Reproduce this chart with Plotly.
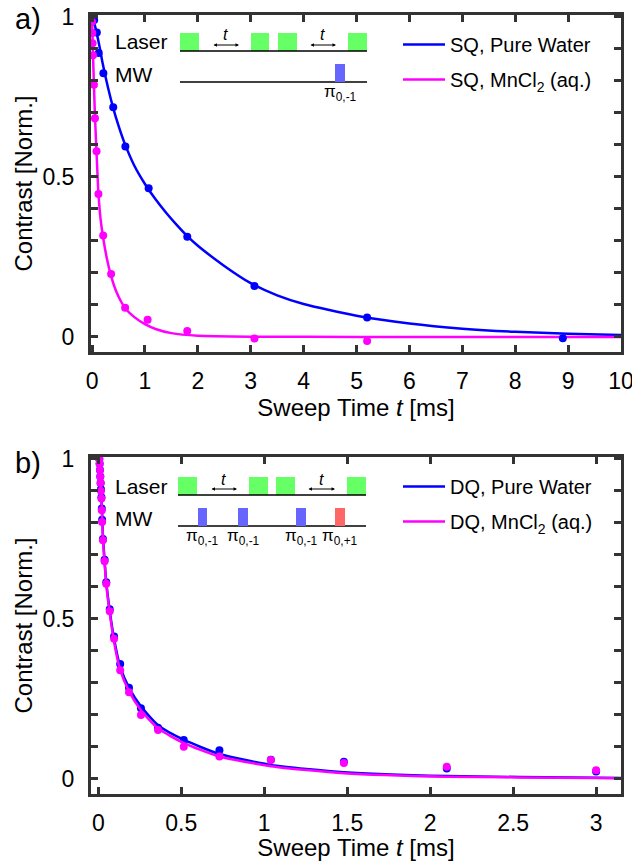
import plotly.graph_objects as go

# ---------------- data ----------------
# Panel a) SQ
sq_water_t = [0.0, 0.04, 0.09, 0.127, 0.214, 0.40, 0.63, 1.07, 1.8, 3.07, 5.2, 8.9]
sq_water_c = [1.0, 0.99, 0.951, 0.887, 0.824, 0.718, 0.595, 0.465, 0.313, 0.159, 0.061, -0.004]
sq_mn_t = [0.0, 0.005, 0.01, 0.018, 0.035, 0.055, 0.085, 0.12, 0.21, 0.36, 0.625, 1.05, 1.8, 3.07, 5.2]
sq_mn_c = [0.985, 0.95, 0.918, 0.88, 0.788, 0.683, 0.58, 0.447, 0.317, 0.197, 0.091, 0.054, 0.019, -0.005, -0.013]

sq_water_fit_t = [0, 0.05, 0.1, 0.15, 0.2, 0.3, 0.4, 0.5, 0.6, 0.8, 1.0, 1.2, 1.4, 1.6, 1.8,
                  2.0, 2.5, 3.0, 3.5, 4.0, 5.0, 6.0, 7.0, 8.0, 9.0, 10.0]
sq_water_fit_c = [1.0, 0.975, 0.94, 0.9, 0.855, 0.78, 0.715, 0.66, 0.612, 0.535, 0.478, 0.43,
                  0.388, 0.35, 0.315, 0.285, 0.222, 0.168, 0.13, 0.103, 0.066, 0.042, 0.026,
                  0.016, 0.01, 0.006]
sq_mn_fit_t = [0, 0.01, 0.02, 0.035, 0.055, 0.085, 0.12, 0.16, 0.21, 0.28, 0.36, 0.45, 0.55,
               0.65, 0.8, 1.0, 1.2, 1.5, 2.0, 3.0, 5.0, 10.0]
sq_mn_fit_c = [1.0, 0.93, 0.87, 0.79, 0.69, 0.575, 0.45, 0.37, 0.31, 0.245, 0.19, 0.145, 0.11,
               0.085, 0.062, 0.04, 0.025, 0.012, 0.004, 0.001, 0.0, 0.0]

# Panel b) DQ
dq_t = [0.006, 0.008, 0.01, 0.012, 0.014, 0.016, 0.019, 0.021, 0.023, 0.028, 0.038, 0.048,
        0.069, 0.095, 0.132, 0.185, 0.257, 0.36, 0.515, 0.73, 1.04, 1.48, 2.1, 3.0]
dq_water_c = [1.0, 0.985, 0.965, 0.945, 0.925, 0.905, 0.88, 0.845, 0.81, 0.75, 0.685, 0.615,
              0.53, 0.445, 0.359, 0.285, 0.221, 0.16, 0.122, 0.09, 0.06, 0.054, 0.033, 0.023]
dq_mn_c = [1.0, 0.985, 0.965, 0.945, 0.925, 0.9, 0.876, 0.84, 0.803, 0.746, 0.68, 0.61,
           0.524, 0.438, 0.34, 0.271, 0.2, 0.153, 0.101, 0.07, 0.059, 0.05, 0.038, 0.027]

dq_fit_t = [0.004, 0.01, 0.016, 0.022, 0.028, 0.038, 0.048, 0.069, 0.095, 0.132, 0.187, 0.258,
            0.36, 0.517, 0.73, 1.04, 1.48, 2.1, 3.0, 3.15]
dq_water_fit_c = [1.0, 0.96, 0.905, 0.84, 0.76, 0.68, 0.615, 0.525, 0.437, 0.35, 0.283, 0.226,
                  0.168, 0.122, 0.078, 0.044, 0.021, 0.009, 0.004, 0.003]
dq_mn_fit_c = [1.0, 0.955, 0.9, 0.835, 0.75, 0.675, 0.607, 0.518, 0.428, 0.34, 0.272, 0.214,
               0.158, 0.112, 0.07, 0.04, 0.018, 0.007, 0.003, 0.002]

top_xticks = list(range(0, 11))
bot_xticks = [0, 0.5, 1, 1.5, 2, 2.5, 3]
bot_xticklabels = ["0", "0.5", "1", "1.5", "2", "2.5", "3"]
y_tickvals = [round(0.1 * i, 1) for i in range(11)]
y_ticktext = ["0", "", "", "", "", "0.5", "", "", "", "", "1"]

BLUE = "#0000FF"
MAGENTA = "#FF00FF"
GREEN = "#66FF66"
PBLUE = "#6666FF"
PRED = "#FF6666"
FRAME = "#333333"
FONT = "Liberation Sans, Arial, sans-serif"

# ---------------- layout geometry (screen pixels) ----------------
W, H = 632, 861
ML = 91
MR = W - 621
MT = 15
MB = H - 794
PW = W - ML - MR
PH = H - MT - MB


def px(xs):
    return (xs - ML) / PW


def py(ys):
    return (H - MB - ys) / PH


top_dom = [py(352), 1.0]
bot_dom = [0.0, py(457)]

fig = go.Figure()

line_style = dict(width=2.5, shape="spline", smoothing=0.6)

# panel a
fig.add_trace(go.Scatter(x=sq_water_fit_t, y=sq_water_fit_c, mode="lines",
                         line=dict(color=BLUE, **line_style), legendgroup="a1",
                         name="SQ, Pure Water", xaxis="x", yaxis="y", legend="legend"))
fig.add_trace(go.Scatter(x=sq_mn_fit_t, y=sq_mn_fit_c, mode="lines",
                         line=dict(color=MAGENTA, **line_style), legendgroup="a2",
                         name="SQ, MnCl<sub>2</sub> (aq.)", xaxis="x", yaxis="y", legend="legend"))
fig.add_trace(go.Scatter(x=sq_water_t, y=sq_water_c, mode="markers",
                         marker=dict(color=BLUE, size=8), showlegend=False, xaxis="x", yaxis="y"))
fig.add_trace(go.Scatter(x=sq_mn_t, y=sq_mn_c, mode="markers",
                         marker=dict(color=MAGENTA, size=8), showlegend=False, xaxis="x", yaxis="y"))

# panel b
fig.add_trace(go.Scatter(x=dq_fit_t, y=dq_water_fit_c, mode="lines",
                         line=dict(color=BLUE, **line_style), legendgroup="b1",
                         name="DQ, Pure Water", xaxis="x2", yaxis="y2", legend="legend2"))
fig.add_trace(go.Scatter(x=dq_t, y=dq_water_c, mode="markers",
                         marker=dict(color=BLUE, size=8), showlegend=False, xaxis="x2", yaxis="y2"))
fig.add_trace(go.Scatter(x=dq_fit_t, y=dq_mn_fit_c, mode="lines",
                         line=dict(color=MAGENTA, **line_style), legendgroup="b2",
                         name="DQ, MnCl<sub>2</sub> (aq.)", xaxis="x2", yaxis="y2", legend="legend2"))
fig.add_trace(go.Scatter(x=dq_t, y=dq_mn_c, mode="markers",
                         marker=dict(color=MAGENTA, size=8), showlegend=False, xaxis="x2", yaxis="y2"))

axis_common = dict(showline=True, linewidth=3, linecolor=FRAME, mirror="ticks",
                   ticks="inside", ticklen=7, tickwidth=2.5, tickcolor=FRAME,
                   showgrid=False, zeroline=False, automargin=False,
                   ticklabeloverflow="allow",
                   tickfont=dict(family=FONT, size=23, color="black"))

xtitle = dict(text="Sweep Time <i>t</i> [ms]", font=dict(size=24), standoff=0)
ytitle = dict(text="Contrast [Norm.]", font=dict(size=24), standoff=4)

legend_common = dict(xanchor="left", yanchor="top", bgcolor="rgba(0,0,0,0)",
                     font=dict(size=20, family=FONT), tracegroupgap=6, itemwidth=42)

fig.update_layout(
    width=W, height=H,
    margin=dict(l=ML, r=MR, t=MT, b=MB),
    paper_bgcolor="white", plot_bgcolor="white",
    font=dict(family=FONT, color="black"),
    xaxis=dict(domain=[0, 1], anchor="y", range=[-0.02, 10], tickvals=top_xticks,
               title=xtitle, ticklabelstandoff=6, **axis_common),
    yaxis=dict(domain=top_dom, anchor="x", range=[-0.047, 1.006], tickvals=y_tickvals,
               ticktext=y_ticktext, title=ytitle, ticklabelstandoff=9, **axis_common),
    xaxis2=dict(domain=[0, 1], anchor="y2", range=[-0.044, 3.15], tickvals=bot_xticks,
                ticktext=bot_xticklabels, title=xtitle, ticklabelstandoff=6, **axis_common),
    yaxis2=dict(domain=bot_dom, anchor="x2", range=[-0.047, 1.006], tickvals=y_tickvals,
                ticktext=y_ticktext, title=ytitle, ticklabelstandoff=9, **axis_common),
    legend=dict(x=px(398), y=py(25), **legend_common),
    legend2=dict(x=px(398), y=py(467), **legend_common),
)

shapes = []
annotations = []


def rect(x0, x1, y0, y1, color):
    shapes.append(dict(type="rect", xref="paper", yref="paper",
                       x0=px(x0), x1=px(x1), y0=py(y1), y1=py(y0),
                       fillcolor=color, line=dict(width=0)))


def hline(x0, x1, y):
    shapes.append(dict(type="line", xref="paper", yref="paper",
                       x0=px(x0), x1=px(x1), y0=py(y), y1=py(y),
                       line=dict(color="black", width=1.5)))


def text(x, y, s, size, xanchor="left"):
    annotations.append(dict(xref="paper", yref="paper", x=px(x), y=py(y), text=s,
                            showarrow=False, xanchor=xanchor, yanchor="middle",
                            font=dict(size=size, family=FONT, color="black")))


def darrow(x0, x1, y):
    annotations.append(dict(xref="paper", yref="paper", x=px(x1), y=py(y),
                            ax=x0 - x1, ay=0, axref="pixel", ayref="pixel",
                            text="", showarrow=True, arrowside="end+start",
                            arrowhead=2, arrowsize=0.7, arrowwidth=1, arrowcolor="black"))


def inset(y_off, pulses, labels, greens):
    text(113, 42 + y_off, "Laser", 21)
    text(113, 74 + y_off, "MW", 21)
    for g0, g1 in greens:
        rect(g0, g1, 33 + y_off, 51 + y_off, GREEN)
    hline(greens[0][0], greens[-1][1], 51 + y_off)
    hline(greens[0][0], greens[-1][1], 82 + y_off)
    darrow(greens[0][1] + 13, greens[1][0] - 12, 45 + y_off)
    darrow(greens[2][1] + 12, greens[3][0] - 12, 45 + y_off)
    text((greens[0][1] + greens[1][0]) / 2, 35 + y_off, "<i>t</i>", 16, "center")
    text((greens[2][1] + greens[3][0]) / 2, 35 + y_off, "<i>t</i>", 16, "center")
    for (p0, p1, col), lab in zip(pulses, labels):
        rect(p0, p1, 64 + y_off, 82 + y_off, col)
        text((p0 + p1) / 2, 93 + y_off, lab, 17, "center")


inset(0, [(335, 345, PBLUE)], ["π<sub>0,-1</sub>"],
      [(180, 199), (251, 269), (278, 297), (348, 367)])
inset(444, [(198, 207, PBLUE), (238, 248, PBLUE), (296, 306, PBLUE), (335, 345, PRED)],
      ["π<sub>0,-1</sub>", "π<sub>0,-1</sub>", "π<sub>0,-1</sub>", "π<sub>0,+1</sub>"],
      [(178, 197), (249, 268), (276, 295), (347, 366)])

text(13, 19, "a)", 29)
text(13, 463, "b)", 29)

fig.update_layout(shapes=shapes, annotations=annotations)

# remove the default 8 px page margin so the figure sits at the window's top-left corner
fig.write_html("out.html", config={"displayModeBar": False},
               post_script="document.body.style.margin='0px';")
